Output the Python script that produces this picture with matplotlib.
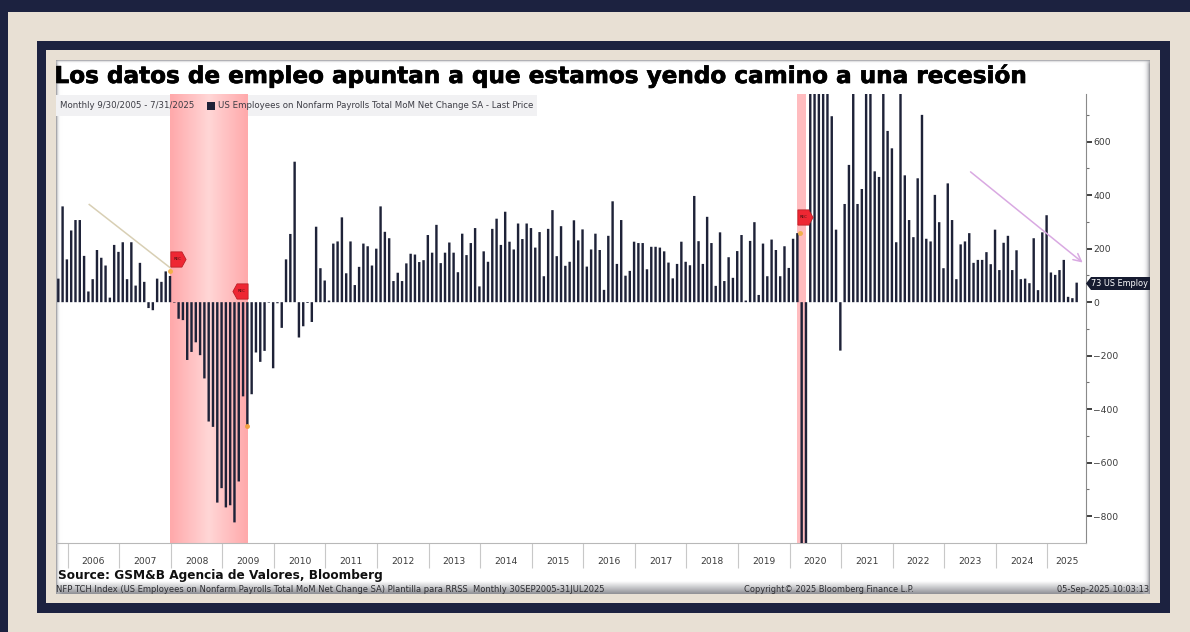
from matplotlib import pyplot as plt
from matplotlib.patches import Rectangle, Polygon
from matplotlib.path import Path
import matplotlib.patheffects as pe
import numpy as np

navy = '#1c2240'
beige = '#e8e0d4'
bar_color = '#1e2238'

title = 'Los datos de empleo apuntan a que estamos yendo camino a una recesión'
legend_text = 'US Employees on Nonfarm Payrolls Total MoM Net Change SA - Last Price'
years = list(range(2006, 2026))

# valores, en miles, mes a mes desde oct 2005
nfp_2005_2007 = [88, 358, 160, 268, 307, 307, 173, 40, 86, 195, 166, 137, 17, 214, 188,
                 224, 86, 224, 62, 147, 76, -22, -30, 88, 76, 115, 98]
nfp_2008_2010 = [-2, -62, -67, -216, -186, -150, -198, -285, -446, -466, -749, -695,
                 -767, -759, -823, -670, -352, -461, -344, -188, -223, -182, -2, -247,
                 -4, -96, 160, 255, 525, -132, -90, -3, -74]
nfp_2010_2012 = [282, 127, 81, 6, 219, 227, 317, 108, 227, 64, 132, 219, 209, 137, 200,
                 358, 263, 239, 79, 110, 79, 145, 181, 178, 150, 157, 251]
nfp_2013_2016 = [185, 289, 146, 185, 223, 185, 112, 256, 176, 221, 277, 59, 190, 151,
                 274, 312, 214, 338, 226, 197, 294, 236, 294, 277, 204, 262, 97, 274,
                 344, 172, 284, 136, 151, 306, 231, 272, 133, 197, 256, 195, 46, 248,
                 377, 143, 307, 99, 117, 226]
nfp_2017_2020 = [221, 221, 123, 207, 207, 204, 190, 148, 89, 143, 226, 151, 138, 397,
                 228, 143, 319, 221, 61, 261, 79, 168, 91, 191, 251, 6, 229, 299, 27,
                 219, 97, 234, 195, 97, 209, 128, 237, 258]
# marzo y abril 2020 y los meses que se salen de la escala son estimados
nfp_covid = [-1373, -20500, 2725, 4781, 1726, 1583, 900, 695, 271, -181]
nfp_2021_2023 = [367, 513, 800, 367, 423, 1000, 1000, 489, 468, 800, 640, 575, 224, 800,
                 474, 307, 243, 463, 700, 237, 227, 401, 299, 127, 444, 307, 86, 216,
                 227, 258, 147, 158, 158, 187, 142, 271]
nfp_2024_2025 = [120, 222, 248, 120, 194, 86, 88, 71, 239, 45, 261, 325, 111, 102, 120,
                 158, 20, 15, 73]

values = np.array(nfp_2005_2007 + nfp_2008_2010 + nfp_2010_2012 + nfp_2013_2016
                  + nfp_2017_2020 + nfp_covid + nfp_2021_2023 + nfp_2024_2025)
months = np.arange(len(values))

year_edges = 2.17 + 12 * np.arange(len(years))
year_centers = year_edges + 6
year_centers[-1] = year_edges[-1] + 4.5

fig = plt.figure(figsize=(11.9, 6.32), dpi=100, facecolor=beige)


def px_box(x0, y0, x1, y1):
    return [x0 / 1190, 1 - y1 / 632, (x1 - x0) / 1190, (y1 - y0) / 632]


# marco en pixeles
bg = fig.add_axes([0, 0, 1, 1], zorder=0)
bg.axis('off')
bg.add_patch(Rectangle((0, 0), 1190, 12, color=navy, lw=0))
bg.add_patch(Rectangle((0, 0), 7.5, 632, color=navy, lw=0))
bg.add_patch(Rectangle((36.5, 40.5), 1133.5, 572.5, color=navy, lw=0))
bg.add_patch(Rectangle((46, 50), 1114, 553, color=beige, lw=0))
bg.add_patch(Rectangle((56, 60), 1094, 534, color='white', lw=0))

# sombras del borde
shade = plt.matplotlib.colors.LinearSegmentedColormap.from_list('s', ['#ffffff', '#8f9096'])
ramp = np.linspace(0, 1, 30) ** 2
bg.imshow(np.linspace(0, 1, 40).reshape(-1, 1), extent=(56, 1150, 594, 581), cmap=shade,
          aspect='auto', zorder=2)
bg.imshow(ramp.reshape(1, -1), extent=(1139, 1150, 594, 60), cmap=shade, aspect='auto',
          zorder=2, alpha=ramp.reshape(1, -1))
bg.imshow(ramp[::-1].reshape(1, -1), extent=(56, 63, 594, 60), cmap=shade, aspect='auto',
          zorder=2, alpha=ramp[::-1].reshape(1, -1))
bg.imshow(ramp[::-1].reshape(-1, 1), extent=(56, 1150, 65, 60), cmap=shade, aspect='auto',
          zorder=2, alpha=ramp[::-1].reshape(-1, 1))
bg.set_xlim(0, 1190)
bg.set_ylim(632, 0)

ax = fig.add_axes(px_box(56, 94, 1085.7, 543), zorder=1)
ax.patch.set_visible(False)

# recesiones con degradado
pink = plt.matplotlib.colors.LinearSegmentedColormap.from_list('p', ['#ffa9ab', '#ffd6d6', '#ffa9ab'])
ax.imshow(np.linspace(0, 1, 60).reshape(1, -1), extent=(26.0, 43.95, -900, 778), cmap=pink,
          aspect='auto', zorder=1)
ax.axvspan(171.9, 174.0, color='#ffbcbf', lw=0, zorder=1)

bars = ax.bar(months, values, width=0.56, color=bar_color, zorder=3)
for b in bars:
    b.set_snap(False)

ax.set_xlim(-0.535, 239.1)
ax.set_ylim(-900, 778)

ax.yaxis.tick_right()
ax.set_yticks(np.arange(-800, 601, 200))
ax.set_yticks(np.arange(-700, 701, 200), minor=True)
ax.tick_params(axis='y', which='major', length=4, width=1.3, color='#303030', labelsize=6.6,
               labelcolor='#3a3a3a', pad=1.5)
ax.tick_params(axis='y', which='minor', length=2.5, width=0.8, color='#707070')

ax.set_xticks(year_edges)
ax.set_xticklabels([])
ax.set_xticks(year_centers, minor=True)
ax.set_xticklabels(years, minor=True)
ax.tick_params(axis='x', which='major', length=18, width=0.8, color='#c8c8c8')
ax.tick_params(axis='x', which='minor', length=0, labelsize=6.6, labelcolor='#3a3a3a', pad=10)

for side in ['left', 'top']:
    ax.spines[side].set_visible(False)
ax.spines['right'].set_color('#8a8a8a')
ax.spines['bottom'].set_color('#b8b8b8')

# marcas REC
rec_right = Path([(-1, -1), (0.45, -1), (1, 0), (0.45, 1), (-1, 1), (-1, -1)])
rec_left = Path([(1, -1), (-0.45, -1), (-1, 0), (-0.45, 1), (1, 1), (1, -1)])
ax.plot([27.9], [160], marker=rec_right, ms=11, color='#ee2733', mec='#b01a20', mew=0.5, zorder=5)
ax.plot([42.4], [40], marker=rec_left, ms=11, color='#ee2733', mec='#b01a20', mew=0.5, zorder=5)
ax.plot([173.7], [320], marker=rec_right, ms=11, color='#ee2733', mec='#b01a20', mew=0.5, zorder=5)
ax.text(27.7, 160, 'REC', fontsize=2.8, ha='center', va='center', zorder=6, color='#401010')
ax.text(42.6, 40, 'REC', fontsize=2.8, ha='center', va='center', zorder=6, color='#401010')
ax.text(173.5, 320, 'REC', fontsize=2.8, ha='center', va='center', zorder=6, color='#401010')
ax.plot([26.0, 172.6], [118, 258], ls='none', marker='o', ms=2.5, color='#f2b04a', zorder=5)
ax.plot([44.0], [-461], ls='none', marker='o', ms=2.5, color='#f2a040', zorder=5)

# lineas de tendencia
ax.plot([7.2, 26.0], [365, 129], color='#d8cfb4', lw=1.1, zorder=4)
ax.annotate('', xy=(238.4, 148), xytext=(212.3, 487),
            arrowprops=dict(arrowstyle='->', color='#d9a9e2', lw=1.1, mutation_scale=14,
                            shrinkA=0, shrinkB=0), zorder=4)

# capa de textos en pixeles
fg = fig.add_axes([0, 0, 1, 1], zorder=2)
fg.set_xlim(0, 1190)
fg.set_ylim(632, 0)
fg.axis('off')
fg.patch.set_visible(False)

# franja de la leyenda
bg.add_patch(Rectangle((56, 95), 481, 21, color='#f1f1f3', lw=0, zorder=3))
fg.text(60, 106, 'Monthly 9/30/2005 - 7/31/2025', fontsize=6.2, color='#3c3c44', va='center')
fg.add_patch(Rectangle((207, 102), 8, 8, color=bar_color, lw=0))
fg.text(217.5, 106, legend_text, fontsize=6.2, color='#3c3c44', va='center')

fg.text(54.5, 76, title, fontsize=16.65, fontweight='bold', color='black', va='center',
        path_effects=[pe.withStroke(linewidth=0.5, foreground='black')])
fg.text(58, 575, 'Source: GSM&B Agencia de Valores, Bloomberg', fontsize=8.72, fontweight='bold',
        color='#101010', va='center')
fg.text(56, 589, 'NFP TCH Index (US Employees on Nonfarm Payrolls Total MoM Net Change SA) '
        'Plantilla para RRSS  Monthly 30SEP2005-31JUL2025', fontsize=6.03, color='#2c2c30', va='center')
fg.text(744, 589, 'Copyright© 2025 Bloomberg Finance L.P.', fontsize=5.95, color='#2c2c30', va='center')
fg.text(1149, 589, '05-Sep-2025 10:03:13', fontsize=5.95, color='#2c2c30', va='center', ha='right')

# etiqueta del ultimo valor
fg.add_patch(Polygon([(1086, 283.5), (1091, 277), (1150, 277), (1150, 290), (1091, 290)],
                     color='#161b30', lw=0))
fg.text(1091, 283.7, '73 US Employ', fontsize=5.9, color='white', va='center')

fig.savefig('out.png', dpi=100)
